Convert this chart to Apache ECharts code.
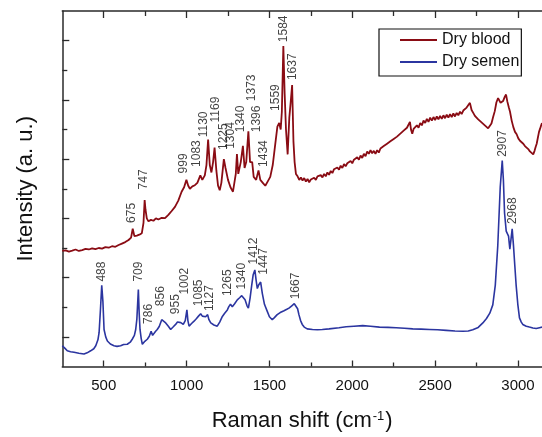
<!DOCTYPE html>
<html>
<head>
<meta charset="utf-8">
<script src="https://cdn.jsdelivr.net/npm/echarts@6/dist/echarts.min.js"></script>
<style>
html,body{margin:0;padding:0;background:#fff;}
#chart{width:542px;height:437px;}
</style>
</head>
<body>
<div id="chart"></div>
<script>
// ---- data ----
var xMajorTicks = [500, 1000, 1500, 2000, 2500, 3000];
var xMinorTicks = [750, 1250, 1750, 2250, 2750];
var yMajorTicks = [1, 3, 5, 7, 9, 11];
var yMinorTicks = [2, 4, 6, 8, 10];

var bloodShift = [250,270,290,310,330,350,370,390,410,430,450,470,490,510,530,550,570,590,610,630,650,665,675,685,700,715,730,740,747,752,760,770,785,800,815,830,850,870,890,910,930,950,970,985,999,1010,1020,1035,1050,1065,1083,1095,1110,1120,1130,1140,1150,1160,1169,1180,1190,1200,1210,1225,1235,1250,1265,1280,1290,1297,1304,1312,1320,1327,1340,1350,1360,1373,1383,1396,1405,1420,1434,1445,1460,1475,1490,1505,1520,1535,1548,1559,1568,1575,1584,1592,1600,1610,1620,1628,1637,1645,1652,
1660,1670,1680,1690,1700,1710,1720,1730,1740,1750,1760,1770,1780,1790,1800,1810,1820,1830,1840,1850,1860,1870,1880,1890,1900,1910,1920,1930,1940,1950,1960,1970,1980,1990,2000,2010,2020,2030,2040,2050,2060,2070,2080,2090,2100,2110,2120,2130,2140,2150,2160,2170,2180,2190,2200,2210,2220,2230,2240,2250,2260,2270,2280,2290,2300,2310,2320,2330,2340,2348,2355,2362,2370,2380,2390,2400,2410,2420,2430,2440,2450,2460,2470,2480,2490,2500,2510,2520,2530,2540,2550,2560,2570,2580,2590,2600,2610,2620,2630,2640,2650,2660,2670,2680,2690,2700,2710,2720,2730,2740,2750,2760,2770,2780,2790,2800,2810,2820,2830,2840,2850,2860,2870,2880,2887,2895,2902,2910,2920,2928,2936,2945,2952,2962,2972,2982,2992,3002,3012,3022,3032,3042,3052,3062,3072,3082,3092,3100,3107,3113,3120,3127,3133,3140,3145];
var bloodIntensity = [3.90,3.92,3.88,3.91,3.95,3.90,3.93,3.97,3.95,3.99,3.96,4.00,3.98,4.03,4.01,4.06,4.04,4.10,4.15,4.20,4.27,4.35,4.65,4.40,4.42,4.45,4.50,4.85,5.62,5.30,5.00,4.90,4.95,4.92,5.00,4.96,5.02,5.01,5.12,5.25,5.39,5.60,5.90,6.05,6.30,6.10,6.00,6.08,6.12,6.20,6.45,6.30,6.45,6.80,7.66,6.80,6.55,6.90,7.39,6.60,6.10,5.95,6.20,7.00,6.70,6.30,6.05,5.90,5.90,6.50,7.17,6.50,6.50,6.90,7.45,6.70,6.90,7.94,6.90,6.90,6.40,6.30,6.62,6.30,6.20,6.10,6.25,6.40,6.80,7.50,8.10,8.22,8.00,8.60,10.82,9.20,8.00,7.16,8.40,8.90,9.50,7.60,6.90,
6.50,6.42,6.30,6.38,6.28,6.36,6.24,6.33,6.22,6.31,6.26,6.37,6.30,6.42,6.36,6.46,6.38,6.50,6.42,6.55,6.47,6.60,6.53,6.66,6.60,6.72,6.64,6.78,6.70,6.83,6.76,6.86,6.80,6.94,6.86,6.98,6.92,7.06,6.98,7.12,7.04,7.18,7.10,7.26,7.18,7.30,7.20,7.28,7.18,7.30,7.22,7.36,7.30,7.44,7.38,7.52,7.46,7.60,7.54,7.68,7.62,7.76,7.70,7.86,7.80,7.96,7.90,8.06,8.12,8.26,7.98,7.86,8.02,7.96,8.14,8.06,8.22,8.14,8.30,8.22,8.36,8.26,8.40,8.30,8.42,8.32,8.44,8.34,8.46,8.36,8.48,8.38,8.50,8.40,8.52,8.42,8.54,8.44,8.56,8.48,8.60,8.52,8.64,8.62,8.74,8.80,8.90,8.66,8.56,8.46,8.40,8.34,8.30,8.24,8.22,8.14,8.10,8.04,8.06,8.20,8.42,8.62,8.92,9.06,9.08,8.90,8.84,8.96,9.10,9.18,8.94,8.74,8.60,8.30,8.08,7.92,7.84,7.70,7.62,7.58,7.52,7.44,7.40,7.34,7.26,7.20,7.16,7.28,7.42,7.52,7.72,7.92,8.02,8.14,8.22];

var semenShift = [250,265,280,300,321,350,381,400,421,440,452,465,472,480,488,495,502,512,522,540,562,580,602,620,642,660,672,685,693,700,709,714,719,726,733,748,763,775,786,795,803,812,823,835,850,860,874,890,904,920,934,945,955,965,980,992,1002,1008,1015,1030,1045,1060,1072,1085,1095,1105,1115,1127,1135,1146,1165,1185,1200,1216,1230,1246,1255,1265,1276,1290,1306,1320,1333,1340,1353,1365,1373,1383,1393,1402,1412,1420,1427,1435,1447,1457,1470,1487,1500,1517,1530,1547,1565,1588,1605,1618,1635,1650,1662,1670,1678,1688,1698,1710,1728,1760,1790,1819,1860,1920,1963,2010,2063,2110,2164,2215,2265,2315,2365,2415,2466,2515,2567,2620,2667,2700,2727,2760,2788,2810,2830,2848,2863,2878,2893,2905,2912,2919,2929,2943,2951,2958,2965,2973,2981,2989,2999,3009,3020,3029,3050,3069,3090,3110,3130,3145];
var semenIntensity = [0.70,0.62,0.53,0.50,0.48,0.45,0.42,0.46,0.53,0.60,0.70,0.90,1.14,1.90,2.74,2.20,1.25,1.00,0.86,0.76,0.70,0.68,0.70,0.74,0.75,0.82,0.92,1.05,1.25,1.60,2.60,1.80,1.25,0.95,0.75,0.85,0.92,1.02,1.19,1.05,1.08,1.18,1.25,1.35,1.58,1.52,1.47,1.36,1.25,1.34,1.42,1.50,1.56,1.48,1.42,1.55,1.91,1.55,1.36,1.45,1.53,1.62,1.70,1.78,1.70,1.64,1.68,1.75,1.58,1.47,1.40,1.36,1.50,1.69,1.80,1.91,2.02,2.10,2.02,2.12,2.25,2.32,2.39,2.40,2.25,2.05,1.97,2.30,2.74,3.10,3.26,2.90,2.63,2.75,2.85,2.47,2.10,1.86,1.68,1.58,1.65,1.75,1.82,1.88,1.93,1.97,2.05,2.12,2.16,1.95,1.75,1.55,1.42,1.33,1.27,1.25,1.24,1.25,1.27,1.31,1.34,1.36,1.38,1.36,1.33,1.32,1.31,1.29,1.27,1.26,1.25,1.24,1.22,1.20,1.19,1.20,1.24,1.32,1.47,1.62,1.80,2.08,2.74,4.07,6.06,6.95,6.30,5.18,4.57,4.40,3.96,4.30,4.65,4.07,3.40,2.74,2.10,1.64,1.50,1.42,1.36,1.33,1.30,1.28,1.31,1.33];

// peak annotations: [text, shift of label, intensity at label foot]
var bloodPeakLabels = [["675",670,4.83],["747",746,5.96],["999",985,6.5],["1083",1066,6.72],["1130",1106,7.72],["1169",1180,8.22],["1225",1227,7.29],["1304",1267,7.33],["1340",1328,7.89],["1373",1398,8.94],["1396",1424,7.89],["1434",1468,6.72],["1559",1539,8.61],["1584",1589,10.93],["1637",1645,9.65]];
var semenPeakLabels = [["488",491,2.85],["709",713,2.85],["786",773,1.42],["856",847,2.02],["955",938,1.75],["1002",991,2.41],["1085",1079,2.02],["1127",1140,1.86],["1265",1252,2.36],["1340",1333,2.58],["1412",1407,3.43],["1447",1467,3.08],["1667",1662,2.25],["2907",2910,7.06],["2968",2973,4.79]];

var seriesNames = ["Dry blood", "Dry semen"];

// ---- chart ----
var FONT = "'Liberation Sans', Arial, sans-serif";
function zip(a, b) { return a.map(function (v, i) { return [v, b[i]]; }); }
function labelData(arr) { return arr.map(function (d) { return { name: d[0], value: [d[1], d[2]] }; }); }

var XMIN = 250, XMAX = 3145, YMIN = 0, YMAX = 12;
var axisColor = '#2a2a2a';

function xAxisDef(pos, ticks, len, showLine, showLabel, withName) {
  var a = {
    type: 'value', position: pos, min: XMIN, max: XMAX,
    axisLine: { show: showLine, onZero: false, lineStyle: { color: axisColor, width: 1.5 } },
    axisTick: { show: true, inside: true, length: len, customValues: ticks, lineStyle: { color: axisColor, width: 1.3 } },
    axisLabel: { show: showLabel, customValues: ticks, margin: 12, fontSize: 15, color: '#111', fontFamily: FONT,
      formatter: function (v) { return String(v); } },
    splitLine: { show: false }
  };
  if (withName) {
    a.name = '{a|Raman shift (cm}{s|-1}{a|)}';
    a.nameLocation = 'middle';
    a.nameGap = 43;
    a.nameTextStyle = { fontFamily: FONT, color: '#111', rich: {
      a: { fontSize: 22, fontFamily: FONT, color: '#111' },
      s: { fontSize: 13, fontFamily: FONT, color: '#111', verticalAlign: 'top', padding: [0, 1, 10, 1] }
    } };
  }
  return a;
}
function yAxisDef(ticks, len, showLine, withName) {
  var a = {
    type: 'value', position: 'left', min: YMIN, max: YMAX,
    axisLine: { show: showLine, onZero: false, lineStyle: { color: axisColor, width: 1.5 } },
    axisTick: { show: true, inside: true, length: len, customValues: ticks, lineStyle: { color: axisColor, width: 1.3 } },
    axisLabel: { show: false },
    splitLine: { show: false }
  };
  if (withName) {
    a.name = 'Intensity (a. u.)';
    a.nameLocation = 'middle';
    a.nameRotate = 90;
    a.nameGap = 25;
    a.nameTextStyle = { fontSize: 22, fontFamily: FONT, color: '#111' };
  }
  return a;
}

var chart = echarts.init(document.getElementById('chart'), null, { renderer: 'canvas' });
var labelStyle = { show: true, formatter: '{b}', rotate: 90, position: [0, 0], align: 'left', verticalAlign: 'middle', fontSize: 12, color: '#111', fontFamily: FONT };

chart.setOption({
  animation: false,
  backgroundColor: '#fff',
  grid: { left: 62.3, right: 0, top: 11, bottom: 64.3, containLabel: false },
  xAxis: [
    xAxisDef('bottom', xMajorTicks, 6, true, true, true),
    xAxisDef('bottom', xMinorTicks, 4, false, false, false),
    xAxisDef('top', xMajorTicks, 7, true, false, false),
    xAxisDef('top', xMinorTicks, 5, false, false, false)
  ],
  yAxis: [
    yAxisDef(yMajorTicks, 7, true, true),
    yAxisDef(yMinorTicks, 5, false, false)
  ],
  legend: {
    data: seriesNames, orient: 'vertical', left: 379, top: 29,
    borderColor: '#111', borderWidth: 1.2, borderRadius: 0,
    padding: [3, 2, 6, 21], itemGap: 6, itemWidth: 37, itemHeight: 2,
    icon: 'rect',
    textStyle: { fontSize: 16, color: '#111', fontFamily: FONT }
  },
  series: [
    { name: seriesNames[0], type: 'line', data: zip(bloodShift, bloodIntensity), showSymbol: false, symbol: 'none',
      lineStyle: { color: '#8a0c14', width: 1.8 }, itemStyle: { color: '#8a0c14' }, z: 3 },
    { name: seriesNames[1], type: 'line', data: zip(semenShift, semenIntensity), showSymbol: false, symbol: 'none',
      lineStyle: { color: '#2b35a0', width: 1.6 }, itemStyle: { color: '#2b35a0' }, z: 3 },
    { type: 'scatter', data: labelData(bloodPeakLabels), symbolSize: 1, itemStyle: { color: 'rgba(0,0,0,0)' }, label: labelStyle, silent: true, z: 5 },
    { type: 'scatter', data: labelData(semenPeakLabels), symbolSize: 1, itemStyle: { color: 'rgba(0,0,0,0)' }, label: labelStyle, silent: true, z: 5 }
  ]
});
</script>
</body>
</html>
